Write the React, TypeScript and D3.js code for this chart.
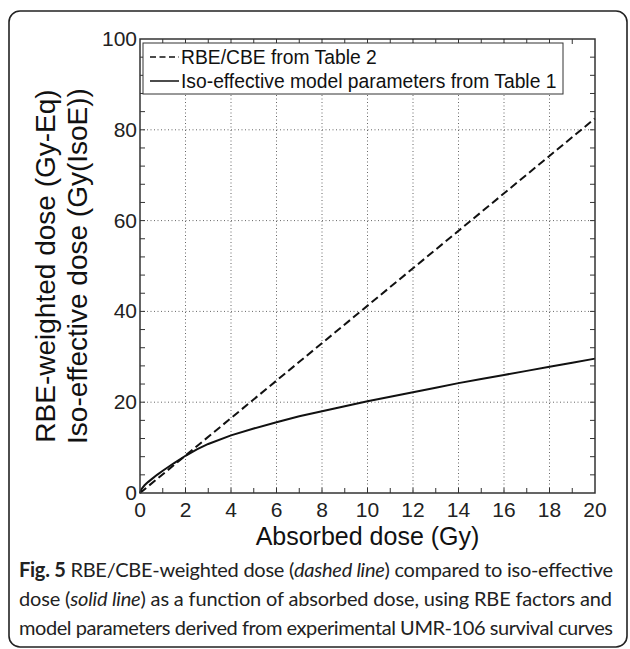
import React, { useRef, useEffect } from "react";
import * as d3 from "d3";

// absorbed dose (Gy) vs weighted dose
const rbeDose = [0, 20];
const rbeWeighted = [0, 82.5];

const isoDose = [0, 0.05, 0.1, 0.2, 0.35, 0.5, 0.75, 1, 1.5, 2, 2.5, 3, 4, 5, 6, 7, 8, 9, 10, 11, 12, 13, 14, 15, 16, 17, 18, 19, 20];
const isoEffective = [0, 0.7, 1.1, 1.7, 2.4, 3.0, 4.0, 4.9, 6.6, 8.2, 9.6, 10.8, 12.7, 14.2, 15.6, 16.9, 18.0, 19.1, 20.2, 21.2, 22.2, 23.2, 24.2, 25.1, 26.0, 26.9, 27.8, 28.7, 29.6];

const xTickLabels = [0, 2, 4, 6, 8, 10, 12, 14, 16, 18, 20];
const yTickLabels = [0, 20, 40, 60, 80, 100];
const legendLabels = ["RBE/CBE from Table 2", "Iso-effective model parameters from Table 1"];

const W = 630;
const H = 649;
const FONT = "'Liberation Sans', Arial, Helvetica, sans-serif";

export default function App() {
  const svgRef = useRef<SVGSVGElement>(null);

  useEffect(() => {
    const svg = d3.select(svgRef.current);
    svg.selectAll("*").remove();

    const left = 140, right = 595, top = 39, bottom = 493;
    const x = d3.scaleLinear().domain([0, 20]).range([left, right]);
    const y = d3.scaleLinear().domain([0, 100]).range([bottom, top]);

    // outer frame
    svg.append("rect")
      .attr("x", 9).attr("y", 11).attr("width", 618).attr("height", 636)
      .attr("rx", 11).attr("fill", "none").attr("stroke", "#222").attr("stroke-width", 1.6);

    // grid
    const grid = svg.append("g").attr("stroke", "#666").attr("stroke-width", 1)
      .attr("stroke-dasharray", "1,2.5");
    xTickLabels.filter((d) => d > 0 && d < 20).forEach((d) => {
      grid.append("line").attr("x1", x(d)).attr("x2", x(d)).attr("y1", top).attr("y2", bottom);
    });
    yTickLabels.filter((d) => d > 0 && d < 100).forEach((d) => {
      grid.append("line").attr("y1", y(d)).attr("y2", y(d)).attr("x1", left).attr("x2", right);
    });

    // curves
    const line = d3.line<[number, number]>().x((d) => x(d[0])).y((d) => y(d[1]));
    svg.append("path")
      .attr("d", line(rbeDose.map((d, i) => [d, rbeWeighted[i]])))
      .attr("fill", "none").attr("stroke", "#111").attr("stroke-width", 2)
      .attr("stroke-dasharray", "8,4");
    svg.append("path")
      .attr("d", line(isoDose.map((d, i) => [d, isoEffective[i]])))
      .attr("fill", "none").attr("stroke", "#111").attr("stroke-width", 2);

    // ticks inward on all sides
    const ticks = svg.append("g").attr("stroke", "#333").attr("stroke-width", 1);
    d3.range(1, 20).forEach((d) => {
      ticks.append("line").attr("x1", x(d)).attr("x2", x(d)).attr("y1", bottom).attr("y2", bottom - 5);
      ticks.append("line").attr("x1", x(d)).attr("x2", x(d)).attr("y1", top).attr("y2", top + 5);
    });
    d3.range(4, 100, 4).forEach((d) => {
      ticks.append("line").attr("y1", y(d)).attr("y2", y(d)).attr("x1", left).attr("x2", left + 5);
      ticks.append("line").attr("y1", y(d)).attr("y2", y(d)).attr("x1", right).attr("x2", right - 5);
    });

    svg.append("rect")
      .attr("x", left).attr("y", top).attr("width", right - left).attr("height", bottom - top)
      .attr("fill", "none").attr("stroke", "#333").attr("stroke-width", 1.5);

    // tick labels
    svg.append("g").selectAll("text").data(xTickLabels).join("text")
      .attr("x", (d) => x(d)).attr("y", 517)
      .attr("text-anchor", "middle").attr("font-family", FONT).attr("font-size", 21).attr("fill", "#222")
      .text((d) => d);
    svg.append("g").selectAll("text").data(yTickLabels).join("text")
      .attr("x", left - 3).attr("y", (d) => y(d) + 7)
      .attr("text-anchor", "end").attr("font-family", FONT).attr("font-size", 21).attr("fill", "#222")
      .text((d) => d);

    // axis titles
    svg.append("text")
      .attr("x", (left + right) / 2).attr("y", 545)
      .attr("text-anchor", "middle").attr("font-family", FONT).attr("font-size", 25).attr("fill", "#111")
      .text("Absorbed dose (Gy)");
    const yl = svg.append("g").attr("transform", `translate(55,${(top + bottom) / 2}) rotate(-90)`);
    yl.append("text").attr("x", 0).attr("y", 0)
      .attr("text-anchor", "middle").attr("font-family", FONT).attr("font-size", 28).attr("fill", "#111")
      .text("RBE-weighted dose (Gy-Eq)");
    yl.append("text").attr("x", 0).attr("y", 32)
      .attr("text-anchor", "middle").attr("font-family", FONT).attr("font-size", 28).attr("fill", "#111")
      .text("Iso-effective dose (Gy(IsoE))");

    // legend
    const lg = svg.append("g");
    lg.append("rect").attr("x", 143).attr("y", 43).attr("width", 420).attr("height", 51)
      .attr("fill", "#fff").attr("stroke", "#333").attr("stroke-width", 1);
    legendLabels.forEach((label, i) => {
      const ly = 57 + i * 24;
      lg.append("line").attr("x1", 150).attr("x2", 179).attr("y1", ly).attr("y2", ly)
        .attr("stroke", "#111").attr("stroke-width", 1.5)
        .attr("stroke-dasharray", i === 0 ? "6,3.5" : null);
      lg.append("text").attr("x", 181).attr("y", ly + 7)
        .attr("font-family", FONT).attr("font-size", 19.3).attr("fill", "#111")
        .text(label);
    });

    // caption
    const cap = svg.append("g").attr("font-family", "Lato, 'Noto Sans', sans-serif")
      .attr("font-size", 20).attr("fill", "#222");
    const l1 = cap.append("text").attr("x", 19).attr("y", 577)
      .attr("textLength", 594).attr("lengthAdjust", "spacing");
    l1.append("tspan").attr("font-weight", "bold").text("Fig. 5");
    l1.append("tspan").text(" RBE/CBE-weighted dose (");
    l1.append("tspan").attr("font-style", "italic").text("dashed line");
    l1.append("tspan").text(") compared to iso-effective");
    const l2 = cap.append("text").attr("x", 19).attr("y", 606)
      .attr("textLength", 593).attr("lengthAdjust", "spacing");
    l2.append("tspan").text("dose (");
    l2.append("tspan").attr("font-style", "italic").text("solid line");
    l2.append("tspan").text(") as a function of absorbed dose, using RBE factors and");
    cap.append("text").attr("x", 19).attr("y", 635)
      .attr("textLength", 594).attr("lengthAdjust", "spacing")
      .text("model parameters derived from experimental UMR-106 survival curves");
  }, []);

  return (
    <svg ref={svgRef} width={W} height={H}
      style={{ position: "absolute", left: 0, top: 0, background: "#fff" }} />
  );
}
